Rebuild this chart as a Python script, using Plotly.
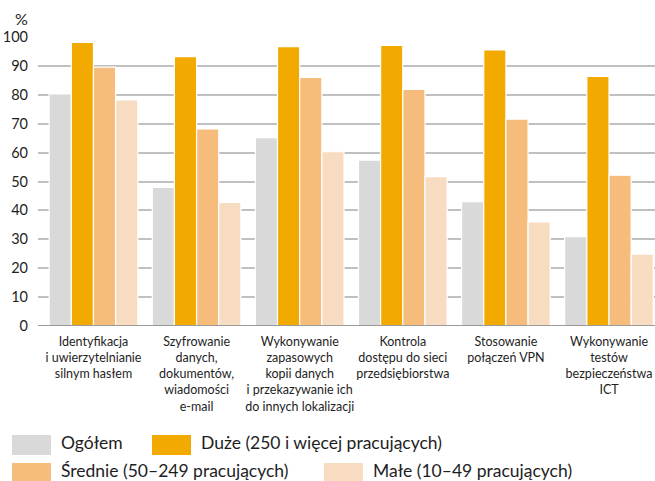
import plotly.graph_objects as go

categories = [
    "Identyfikacja<br>i uwierzytelnianie<br>silnym hasłem",
    "Szyfrowanie<br>danych,<br>dokumentów,<br>wiadomości<br>e-mail",
    "Wykonywanie<br>zapasowych<br>kopii danych<br>i przekazywanie ich<br>do innych lokalizacji",
    "Kontrola<br>dostępu do sieci<br>przedsiębiorstwa",
    "Stosowanie<br>połączeń VPN",
    "Wykonywanie<br>testów<br>bezpieczeństwa<br>ICT",
]
series_names = [
    "Ogółem",
    "Duże (250 i więcej pracujących)",
    "Średnie (50–249 pracujących)",
    "Małe (10–49 pracujących)",
]
ogolem = [80.3, 48.0, 65.2, 57.4, 43.0, 30.9]
duze = [98.1, 93.2, 96.7, 97.1, 95.5, 86.4]
srednie = [89.6, 68.2, 86.0, 81.9, 71.6, 52.2]
male = [78.2, 42.8, 60.3, 51.7, 36.0, 24.9]
series_values = [ogolem, duze, srednie, male]
colors = ["#d9d9d9", "#f2a900", "#f5bc7b", "#f7dcc2"]
y_ticks = list(range(0, 101, 10))

FONT = "Lato, 'Noto Sans', sans-serif"
TXT = "#1e1e1e"

W, H = 655, 481
L, R, T, B = 38, 0, 37, 155
pw, ph = W - L - R, H - T - B

x_idx = list(range(len(categories)))

fig = go.Figure()
for name, vals, col in zip(series_names, series_values, colors):
    fig.add_trace(go.Bar(
        x=x_idx, y=vals, name=name,
        marker=dict(color=col, line=dict(color="white", width=1.2)),
        showlegend=False, hoverinfo="skip",
    ))


def px_x(p):
    return (p - L) / pw


def px_y(p):
    return (H - B - p) / ph


# legend drawn manually (swatch + label)
legend_pos = [(12, 435), (152, 435), (12, 463), (324, 463)]
shapes = []
annotations = []
for (sx, sy), name, col in zip(legend_pos, series_names, colors):
    shapes.append(dict(type="rect", xref="paper", yref="paper",
                       x0=px_x(sx), x1=px_x(sx + 39), y0=px_y(sy), y1=px_y(sy + 20),
                       fillcolor=col, line=dict(width=0), layer="above"))
    annotations.append(dict(xref="paper", yref="paper", x=px_x(sx + 47), y=px_y(sy + 7),
                            text=name, showarrow=False, xanchor="left", yanchor="middle",
                            font=dict(family=FONT, size=17.5, color=TXT)))

# baseline drawn above bars
shapes.append(dict(type="line", xref="paper", yref="y", x0=0, x1=1, y0=0, y1=0,
                   line=dict(color="#9a9a9a", width=2), layer="above"))

annotations.append(dict(xref="paper", yref="paper", x=px_x(30), y=px_y(19),
                        text="%", showarrow=False, xanchor="right", yanchor="middle",
                        font=dict(family=FONT, size=16, color=TXT)))

fig.update_layout(
    width=W, height=H,
    margin=dict(l=L, r=R, t=T, b=B, pad=0, autoexpand=False),
    paper_bgcolor="white", plot_bgcolor="white",
    barmode="group", bargap=0.14, bargroupgap=0,
    font=dict(family=FONT, color=TXT),
    shapes=shapes, annotations=annotations,
    xaxis=dict(
        range=[-0.538, 5.446], automargin=False, tickangle=0,
        tickmode="array", tickvals=x_idx, ticktext=categories,
        tickfont=dict(family=FONT, size=12.5, color=TXT),
        showgrid=False, zeroline=False, showline=False, ticks="",
        ticklabelstandoff=6, fixedrange=True,
    ),
    yaxis=dict(
        range=[0, 100], tickmode="array", tickvals=y_ticks, automargin=False,
        tickfont=dict(family=FONT, size=14.5, color=TXT),
        showgrid=True, gridcolor="#c0c0c0", gridwidth=1.5,
        zeroline=False, showline=False, ticks="", ticklabelstandoff=9,
        fixedrange=True,
    ),
)

fig.write_html(
    "out.html",
    config={"displayModeBar": False, "staticPlot": False},
    post_script="document.body.style.margin='0';document.body.style.overflow='hidden';",
)
